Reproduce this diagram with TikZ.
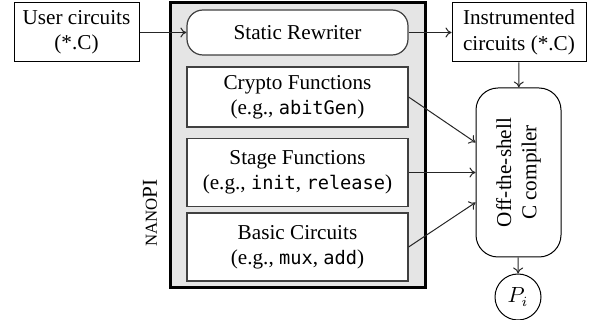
\documentclass[tikz,border=0pt]{standalone}
\usepackage{fontspec}
\setmainfont{Liberation Serif}
\setmonofont{DejaVu Sans Mono}[Scale=0.88]
\usetikzlibrary{arrows.meta}
\begin{document}
\begin{tikzpicture}[x=0.5pt,y=-0.5pt,
  every node/.style={font=\fontsize{10.6}{12.6}\selectfont, inner sep=0pt, align=center},
  plainbox/.style={draw=black, line width=0.5pt, fill=white, rectangle},
  libbox/.style={draw=black!75, line width=0.6pt, fill=white, rectangle,
    minimum width=110.5pt},
  conn/.style={-{To[length=3pt,width=5pt]}, line width=0.5pt, black!85}]
\useasboundingbox (0,0) rectangle (590,320);

% NANOPI container
\node[draw=black, line width=1.5pt, fill=black!10, minimum width=127.5pt,
  minimum height=142.5pt] (lib) at (297.5,145.5) {};
\node[rotate=90] (libname) at (150,213)
  {{\fontsize{8.4}{10}\selectfont NANO}PI};

% inputs and outputs
\node[plainbox, minimum width=62.5pt, minimum height=29.5pt] (user) at (76.5,32.5)
  {User circuits\\(*.C)};
\node[plainbox, minimum width=67pt, minimum height=29.5pt] (instr) at (519,32.5)
  {Instrumented\\circuits (*.C)};

% components inside the container
\node[libbox, rounded corners=8pt, minimum height=22.5pt] (rewriter) at (297.5,32.5)
  {Static Rewriter};
\node[libbox, minimum height=30pt] (crypto) at (297.5,97)
  {Crypto Functions\\(e.g., \texttt{abitGen})};
\node[libbox, minimum height=34pt] (stage) at (297.5,172.5)
  {Stage Functions\\(e.g., \texttt{init}, \texttt{release})};
\node[libbox, minimum height=34pt] (basic) at (297.5,247)
  {Basic Circuits\\(e.g., \texttt{mux}, \texttt{add})};

% compiler and result
\node[plainbox, rounded corners=11pt, minimum width=42.5pt, minimum height=84.5pt]
  (comp) at (518.5,172.5) {};
\node[rotate=90] (comptext) at (comp.center) {Off-the-shell\\C compiler};
\node[draw=black, line width=0.5pt, circle, minimum size=23pt] (pi) at (518,297)
  {$P_i$};

% connectors
\draw[conn] (user) -- (rewriter);
\draw[conn] (rewriter) -- (instr);
\draw[conn] (instr) -- (comp);
\draw[conn] (crypto.east) -- ([yshift=15pt]comp.west);
\draw[conn] (stage.east) -- (comp.west);
\draw[conn] (basic.east) -- ([yshift=-15pt]comp.west);
\draw[conn] (comp) -- (pi);
\end{tikzpicture}
\end{document}
